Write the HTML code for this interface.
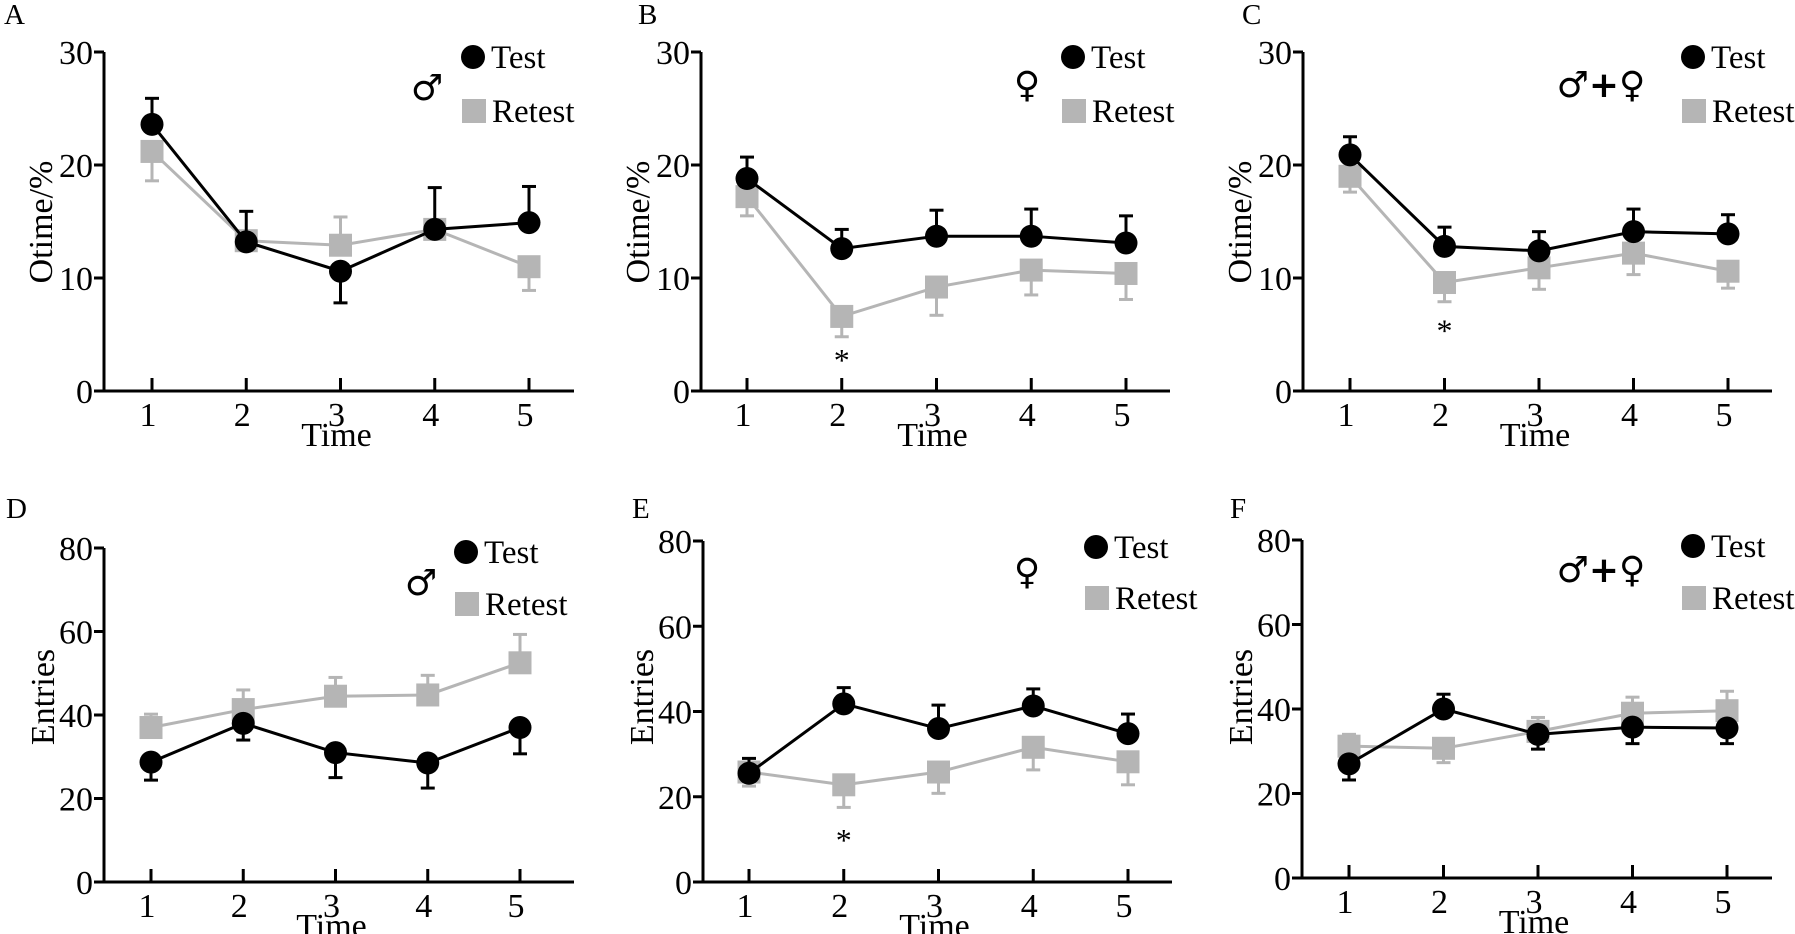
<!DOCTYPE html>
<html><head><meta charset="utf-8"><style>
html,body{margin:0;padding:0;background:#fff;}
svg{display:block;font-family:"Liberation Serif",serif;}
</style></head><body>
<svg id="fig" width="1795" height="934" viewBox="0 0 1795 934" xmlns="http://www.w3.org/2000/svg"></svg>
<script>
const categories=[1,2,3,4,5];
const aTest=[23.6,13.2,10.6,14.3,14.9], aTestErr=[2.3,2.7,-2.8,3.7,3.2];
const aRetest=[21.2,13.3,12.9,14.3,11.0], aRetestErr=[-2.6,0,2.5,0,-2.1];
const bTest=[18.8,12.6,13.7,13.7,13.1], bTestErr=[1.9,1.7,2.3,2.4,2.4];
const bRetest=[17.2,6.6,9.2,10.7,10.4], bRetestErr=[-1.7,-1.8,-2.5,-2.2,-2.3];
const cTest=[20.9,12.8,12.4,14.1,13.9], cTestErr=[1.6,1.7,1.7,2.0,1.7];
const cRetest=[19.0,9.6,10.9,12.2,10.6], cRetestErr=[-1.4,-1.7,-1.9,-1.9,-1.5];
const dTest=[28.7,38.0,31.0,28.5,37.0], dTestErr=[-4.3,-4.0,-6.0,-6.0,-6.3];
const dRetest=[37.0,41.3,44.5,44.8,52.5], dRetestErr=[3.2,4.7,4.5,4.7,6.8];
const eTest=[25.5,41.8,36.0,41.3,34.8], eTestErr=[3.5,3.8,5.5,4.0,4.6];
const eRetest=[25.8,22.8,25.8,31.6,28.2], eRetestErr=[-3.3,-5.3,-5.0,-5.3,-5.4];
const fTest=[27.0,40.0,34.0,35.7,35.5], fTestErr=[-3.8,3.5,-3.5,-3.9,-3.7];
const fRetest=[31.2,30.7,34.7,39.0,39.6], fRetestErr=[2.8,-3.4,3.3,3.8,4.6];
const topTicks=[0,10,20,30], bottomTicks=[0,20,40,60,80];

const panels=[
 {id:'a',label:'A',lx:4,ly:24,ax:104,x1:152,x5:529,xe:574,y0:391,yt:52,max:30,ticks:topTicks,title:'Otime/%',tx:40,ty:222,test:aTest,te:aTestErr,re:aRetest,ree:aRetestErr,lc:[473,57],ls:[474,111],sym:'♂',sx:427,sy:100,star:null},
 {id:'b',label:'B',lx:638,ly:24,ax:701,x1:747,x5:1126,xe:1170,y0:391,yt:52,max:30,ticks:topTicks,title:'Otime/%',tx:637,ty:222,test:bTest,te:bTestErr,re:bRetest,ree:bRetestErr,lc:[1073,57],ls:[1074,111],sym:'♀',sx:1027,sy:97,star:3.0},
 {id:'c',label:'C',lx:1242,ly:24,ax:1303,x1:1350,x5:1728,xe:1772,y0:391,yt:52,max:30,ticks:topTicks,title:'Otime/%',tx:1239,ty:222,test:cTest,te:cTestErr,re:cRetest,ree:cRetestErr,lc:[1693,57],ls:[1694,111],sym:'♂+♀',sx:1601,sy:97,star:5.6},
 {id:'d',label:'D',lx:6,ly:518,ax:104,x1:151,x5:520,xe:574,y0:882,yt:548,max:80,ticks:bottomTicks,title:'Entries',tx:42,ty:697,test:dTest,te:dTestErr,re:dRetest,ree:dRetestErr,lc:[466,552],ls:[467,604],sym:'♂',sx:421,sy:595,star:null},
 {id:'e',label:'E',lx:632,ly:518,ax:703,x1:749,x5:1128,xe:1172,y0:882,yt:541,max:80,ticks:bottomTicks,title:'Entries',tx:641,ty:697,test:eTest,te:eTestErr,re:eRetest,ree:eRetestErr,lc:[1096,547],ls:[1097,598],sym:'♀',sx:1027,sy:584,star:10.5},
 {id:'f',label:'F',lx:1230,ly:518,ax:1302,x1:1349,x5:1727,xe:1772,y0:878,yt:540,max:80,ticks:bottomTicks,title:'Entries',tx:1240,ty:697,test:fTest,te:fTestErr,re:fRetest,ree:fRetestErr,lc:[1693,546],ls:[1694,598],sym:'♂+♀',sx:1601,sy:582,star:null}
];
const NS='http://www.w3.org/2000/svg';
const svg=document.getElementById('fig');
function mk(tag,attrs,parent,text){const e=document.createElementNS(NS,tag);for(const k in attrs)e.setAttribute(k,attrs[k]);if(text!=null)e.textContent=text;parent.appendChild(e);return e;}
const GRAY='#b5b5b5';
panels.forEach(p=>{
 const g=mk('g',{},svg);
 
 
 const xs=i=>p.x1+(categories[i]-1)*(p.x5-p.x1)/(categories.length-1);
 const ys=v=>p.y0-(v/p.max)*(p.y0-p.yt);
 const lab=mk('text',{x:p.lx,y:p.ly,'font-size':29},g,p.label);
 
 
 const axes=mk('path',{d:`M${p.ax} ${p.yt}V${p.y0}H${p.xe}`,fill:'none',stroke:'#000','stroke-width':3},g);
 
 
 p.ticks.forEach(t=>{
  const y=ys(t);
  mk('line',{x1:p.ax-10,x2:p.ax,y1:y,y2:y,stroke:'#000','stroke-width':3},g);
  const tl=mk('text',{x:p.ax-11,y:y+12,'font-size':34,'text-anchor':'end'},g,t);
  
  
 });
 categories.forEach((c,i)=>{
  const x=xs(i);
  mk('line',{x1:x,x2:x,y1:p.y0,y2:p.y0-13,stroke:'#000','stroke-width':3},g);
  const tl=mk('text',{x:x-4,y:p.y0+35,'font-size':34,'text-anchor':'middle'},g,c);
  
  
 });
 const xt=mk('text',{x:xs(2)-4,y:p.y0+55,'font-size':34,'text-anchor':'middle'},g,'Time');
 
 
 const yt=mk('text',{x:0,y:0,'font-size':34,'text-anchor':'middle',transform:`translate(${p.tx+12},${p.ty}) rotate(-90)`},g,p.title);
 
 
 function series(vals,errs,color,shape,name){
  const sg=mk('g',{},g);
  
  
  vals.forEach((v,i)=>{ if(errs[i]!==0){const x=xs(i),y1=ys(v),y2=ys(v+errs[i]);
   mk('line',{x1:x,x2:x,y1:y1,y2:y2,stroke:color,'stroke-width':3},sg);
   mk('line',{x1:x-7,x2:x+7,y1:y2,y2:y2,stroke:color,'stroke-width':3},sg);}});
  const ln=mk('polyline',{points:vals.map((v,i)=>xs(i)+','+ys(v)).join(' '),fill:'none',stroke:color,'stroke-width':3},sg);
  
  
  vals.forEach((v,i)=>{let m;
   if(shape==='c')m=mk('circle',{cx:xs(i),cy:ys(v),r:11.5,fill:color},sg);
   else m=mk('rect',{x:xs(i)-11.5,y:ys(v)-11.5,width:23,height:23,fill:color},sg);
   
   });
 }
 series(p.re,p.ree,GRAY,'s','retest');
 series(p.test,p.te,'#000','c','test');
 if(p.star!=null){const s=mk('text',{x:xs(1),y:ys(p.star)+14,'font-size':32,'text-anchor':'middle'},g,'*');
  
  }
 const lg=mk('g',{},g);
 
 
 mk('circle',{cx:p.lc[0],cy:p.lc[1],r:12,fill:'#000'},lg);
 mk('text',{x:p.lc[0]+18,y:p.lc[1]+11,'font-size':33},lg,'Test');
 mk('rect',{x:p.ls[0]-12,y:p.ls[1]-12,width:24,height:24,fill:GRAY},lg);
 mk('text',{x:p.ls[0]+18,y:p.ls[1]+11,'font-size':33},lg,'Retest');
 const sym=mk('text',{x:p.sx,y:p.sy,'font-size':36,'font-weight':'bold','text-anchor':'middle','font-family':'"DejaVu Sans",sans-serif'},g,p.sym);
 
 
});
</script>
</body></html>
